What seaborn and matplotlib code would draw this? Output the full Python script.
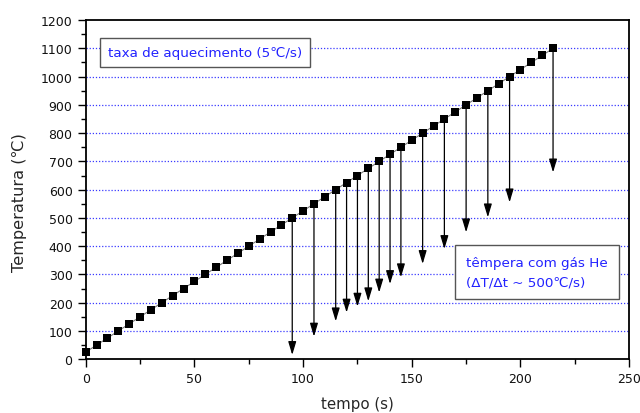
import numpy as np
import pandas as pd
import matplotlib
matplotlib.use("Agg")
import matplotlib.pyplot as plt
import seaborn as sns

# Heating ramp: time (s) and temperature (°C)
tempo = [0, 5, 10, 15, 20, 25, 30, 35, 40, 45, 50, 55, 60, 65, 70, 75, 80, 85,
         90, 95, 100, 105, 110, 115, 120, 125, 130, 135, 140, 145, 150, 155,
         160, 165, 170, 175, 180, 185, 190, 195, 200, 205, 210, 215]
temperatura = [25, 50, 75, 100, 125, 150, 175, 200, 225, 250, 275, 300, 325,
               350, 375, 400, 425, 450, 475, 500, 525, 550, 575, 600, 625, 650,
               675, 700, 725, 750, 775, 800, 825, 850, 875, 900, 925, 950, 975,
               1000, 1025, 1050, 1075, 1100]

# Quench with He gas: start time, start temperature and final temperature
quench_t = [95, 105, 115, 120, 125, 130, 135, 140, 145, 155, 165, 175, 185, 195, 215]
quench_start = [500, 550, 600, 625, 650, 675, 700, 725, 750, 800, 850, 900, 950, 1000, 1100]
quench_end = [15, 80, 134, 165, 186, 205, 236, 266, 290, 337, 390, 449, 502, 555, 661]

xticks = [0, 50, 100, 150, 200, 250]
yticks = [0, 100, 200, 300, 400, 500, 600, 700, 800, 900, 1000, 1100, 1200]

sns.set_style("ticks")
plt.rcParams["font.family"] = ["DejaVu Sans"]

fig = plt.figure(figsize=(6.4, 4.14), dpi=100)
ax = fig.add_axes([0.134, 0.130, 0.849, 0.819])

df = pd.DataFrame({"tempo": tempo, "temperatura": temperatura})

# horizontal reference lines
for y in yticks[1:-1]:
    ax.axhline(y, color="#3a3aff", lw=0.9, ls=(0, (1, 1.5)), zorder=0)

sns.lineplot(data=df, x="tempo", y="temperatura", ax=ax, color="#777777",
             lw=0.8, marker="s", markersize=6.4, markerfacecolor="black",
             markeredgewidth=0, zorder=3, clip_on=False)

for t, y0, y1 in zip(quench_t, quench_start, quench_end):
    ax.annotate("", xy=(t, y1), xytext=(t, y0),
                arrowprops=dict(arrowstyle="-|>,head_length=0.8,head_width=0.24",
                                color="black", lw=0.9, shrinkA=0, shrinkB=0),
                zorder=2)

ax.set_xlim(0, 250)
ax.set_ylim(0, 1200)
ax.set_xticks(xticks)
ax.set_yticks(yticks)
ax.set_xticks(np.arange(25, 250, 50), minor=True)
ax.set_yticks(np.arange(50, 1200, 100), minor=True)
ax.tick_params(axis="both", which="major", direction="out", length=6, width=1,
               labelsize=9, color="black", labelcolor="#111111")
ax.tick_params(axis="both", which="minor", direction="out", length=3.5, width=1,
               color="black")
ax.tick_params(axis="both", which="both", top=False, right=False)

for s in ax.spines.values():
    s.set_visible(True)
    s.set_color("black")
    s.set_linewidth(1.3)

ax.set_xlabel("tempo (s)", fontsize=10.8)
ax.xaxis.set_label_coords(0.5, -0.108)
ax.set_ylabel("Temperatura (℃)", fontsize=11.6)
ax.yaxis.set_label_coords(-0.108, 0.466)

box1 = dict(boxstyle="square,pad=0.6", facecolor="white", edgecolor="#555555", lw=1)
box2 = dict(boxstyle="square,pad=0.8", facecolor="white", edgecolor="#555555", lw=1)
ax.text(10.2, 1084, "taxa de aquecimento (5℃/s)", color="#2222ff", fontsize=9.7,
        va="center", ha="left", bbox=box1, zorder=5)
ax.text(175, 308, "têmpera com gás He\n(ΔT/Δt ~ 500℃/s)", color="#2222ff",
        fontsize=9.7, va="center", ha="left", linespacing=1.7, bbox=box2, zorder=5)

fig.savefig("out.png", dpi=100)
